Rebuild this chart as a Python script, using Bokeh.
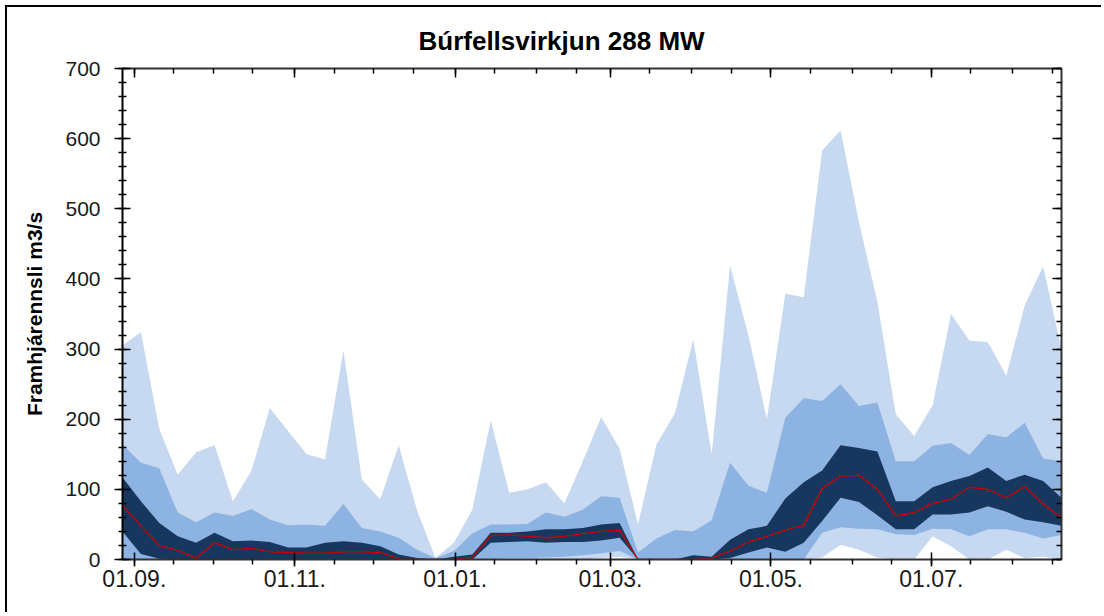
from bokeh.plotting import figure
from bokeh.models import LinearAxis, FixedTicker, SingleIntervalTicker, Range1d, ColumnDataSource
from bokeh.embed import file_html
from bokeh.resources import INLINE

# x: weekly points, days counted from 01.09.
week_day = [-4.5 + 7 * i for i in range(52)]

flow_max = [305, 324, 186, 121, 153, 163, 83, 126, 216, 183, 150, 143, 298, 114, 86, 163, 70, 2, 24, 71,
            198, 95, 100, 110, 80, 140, 203, 158, 50, 164, 208, 314, 150, 419, 319, 200, 379, 374, 583, 612,
            481, 367, 207, 176, 220, 350, 312, 310, 262, 362, 418, 300]
flow_p90 = [164, 138, 130, 67, 53, 67, 62, 72, 57, 49, 50, 48, 79, 45, 40, 31, 14, 2, 12, 37,
            50, 50, 51, 67, 61, 71, 90, 88, 10, 30, 42, 40, 56, 138, 105, 95, 202, 230, 226, 250,
            219, 224, 140, 140, 162, 166, 149, 179, 174, 195, 144, 140]
flow_p75 = [117, 83, 52, 33, 24, 38, 26, 27, 25, 17, 17, 24, 26, 24, 19, 7, 2, 0, 4, 7,
            38, 38, 40, 43, 43, 45, 50, 52, 0, 0, 0, 6, 4, 28, 43, 48, 87, 110, 127, 163,
            159, 154, 83, 83, 103, 112, 119, 131, 112, 121, 112, 88]
flow_median = [77, 48, 20, 13, 2, 24, 14, 16, 11, 10, 9, 9, 11, 11, 10, 1, 0, 0, 0, 3,
               34, 35, 33, 31, 33, 37, 40, 42, 0, 0, 0, 0, 2, 12, 25, 33, 42, 49, 101, 119,
               120, 100, 62, 67, 80, 86, 103, 100, 88, 104, 79, 60]
flow_p25 = [40, 8, 1, 0, 0, 0, 0, 0, 0, 0, 0, 0, 0, 0, 0, 0, 0, 0, 0, 0,
            24, 25, 26, 24, 25, 25, 27, 31, 0, 0, 0, 0, 0, 2, 10, 17, 11, 24, 55, 88,
            82, 63, 43, 43, 64, 64, 67, 76, 68, 57, 53, 48]
flow_p10 = [0, 0, 0, 0, 0, 0, 0, 0, 0, 0, 0, 0, 0, 0, 0, 0, 0, 0, 0, 0,
            1, 2, 2, 3, 4, 6, 9, 12, 0, 0, 0, 0, 0, 0, 0, 0, 0, 0, 38, 46,
            44, 43, 36, 35, 44, 43, 33, 43, 43, 38, 30, 35]
flow_min = [0, 0, 0, 0, 0, 0, 0, 0, 0, 0, 0, 0, 0, 0, 0, 0, 0, 0, 0, 0,
            0, 0, 0, 0, 0, 0, 2, 4, 0, 0, 0, 0, 0, 0, 0, 0, 0, 0, 3, 21,
            14, 3, 0, 0, 33, 19, 0, 0, 14, 2, 4, 0]

tick_days = [0, 61, 122, 181, 242, 303]
tick_labels = ["01.09.", "01.11.", "01.01.", "01.03.", "01.05.", "01.07."]
minor_days = [0, 15, 30, 45, 61, 76, 91, 106, 122, 137, 153, 168, 181, 196, 212, 227,
              242, 257, 273, 288, 303, 318, 334, 349]

FONT = "Liberation Sans"
TXT = "#1a1a1a"

src = ColumnDataSource(dict(x=week_day, mx=flow_max, p90=flow_p90, p75=flow_p75, med=flow_median,
                            p25=flow_p25, p10=flow_p10, mn=flow_min))

p = figure(frame_width=939, frame_height=491, x_range=Range1d(-4.5, 352.5), y_range=Range1d(0, 700),
           output_backend="svg", toolbar_location=None,
           min_border_left=115, min_border_right=42, min_border_top=61, min_border_bottom=55,
           styles={"margin-left": "7px", "margin-top": "7px", "box-shadow": "-2px -2px 0 0 #000"})
p.title.text = "Búrfellsvirkjun 288 MW"
p.title.align = "left"
p.title.text_font = FONT
p.title.text_font_size = "26px"
p.title.text_font_style = "bold"
p.title.text_color = "#000000"
p.title.offset = 296
p.title.standoff = 25
p.outline_line_color = None
p.xgrid.visible = False
p.ygrid.visible = False
p.background_fill_color = "white"
p.border_fill_color = "white"

p.varea(x="x", y1="mn", y2="mx", source=src, fill_color="#c6d9f0")
p.varea(x="x", y1="p10", y2="p90", source=src, fill_color="#8db3e2")
p.varea(x="x", y1="p25", y2="p75", source=src, fill_color="#17375e")
p.line(x="x", y="med", source=src, line_color="#cc0000", line_width=1.3)

xt = FixedTicker(ticks=tick_days, minor_ticks=minor_days)
yt = SingleIntervalTicker(interval=100, num_minor_ticks=5)

xa = p.xaxis[0]
xa.ticker = xt
xa.major_label_overrides = {d: l for d, l in zip(tick_days, tick_labels)}
xa.major_tick_in = 7
xa.major_tick_out = 7
xa.minor_tick_in = 0
xa.minor_tick_out = 5
xa.major_label_standoff = 3
xa.major_label_text_font = FONT
xa.major_label_text_font_size = "23px"
xa.major_label_text_color = TXT
xa.axis_line_width = 2
xa.axis_line_color = "#333333"
xa.major_tick_line_width = 1.5
xa.minor_tick_line_width = 1.5

ya = p.yaxis[0]
ya.ticker = yt
ya.major_tick_in = 8
ya.major_tick_out = 8
ya.minor_tick_in = 4
ya.minor_tick_out = 4
ya.major_label_standoff = 14
ya.major_label_text_font = FONT
ya.major_label_text_font_size = "21px"
ya.major_label_text_color = TXT
ya.axis_label = "Framhjárennsli m3/s"
ya.axis_label_text_font = FONT
ya.axis_label_text_font_size = "21px"
ya.axis_label_text_font_style = "bold"
ya.axis_label_text_color = "#000000"
ya.axis_label_standoff = 16
ya.axis_line_width = 2
ya.axis_line_color = "#000000"
ya.major_tick_line_width = 1.5
ya.minor_tick_line_width = 1.5

top = LinearAxis(ticker=FixedTicker(ticks=tick_days, minor_ticks=minor_days),
                 major_label_overrides={d: "" for d in tick_days},
                 major_label_text_font_size="1px", major_label_standoff=0,
                 major_tick_in=9, major_tick_out=0, minor_tick_in=5, minor_tick_out=0,
                 axis_line_width=2, axis_line_color="#333333",
                 major_tick_line_width=1.5, minor_tick_line_width=1.5)
p.add_layout(top, "above")

right = LinearAxis(ticker=SingleIntervalTicker(interval=100, num_minor_ticks=5),
                   major_label_overrides={v: "" for v in range(0, 701, 100)},
                   major_label_text_font_size="1px", major_label_standoff=0,
                   major_tick_in=9, major_tick_out=0, minor_tick_in=5, minor_tick_out=0,
                   axis_line_width=2, axis_line_color="#333333",
                   major_tick_line_width=1.5, minor_tick_line_width=1.5)
p.add_layout(right, "right")

open("out.html", "w").write(file_html(p, INLINE))
